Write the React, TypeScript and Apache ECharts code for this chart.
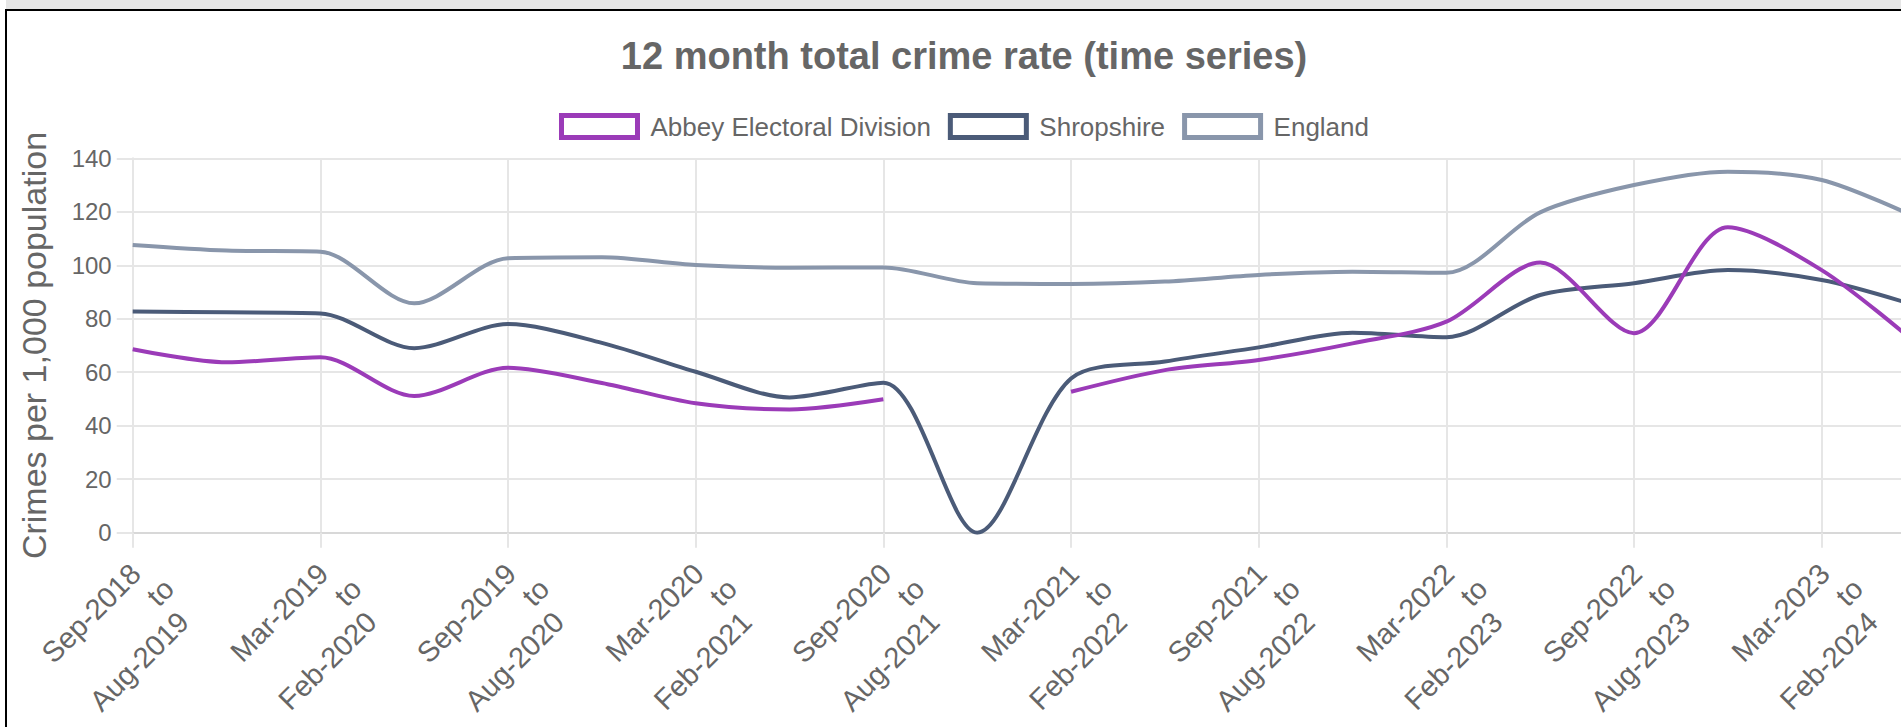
import React, { useEffect, useRef } from "react";
import * as echarts from "echarts";

const categories = [
  "Sep-2018 to Aug-2019",
  "Dec-2018 to Nov-2019",
  "Mar-2019 to Feb-2020",
  "Jun-2019 to May-2020",
  "Sep-2019 to Aug-2020",
  "Dec-2019 to Nov-2020",
  "Mar-2020 to Feb-2021",
  "Jun-2020 to May-2021",
  "Sep-2020 to Aug-2021",
  "Dec-2020 to Nov-2021",
  "Mar-2021 to Feb-2022",
  "Jun-2021 to May-2022",
  "Sep-2021 to Aug-2022",
  "Dec-2021 to Nov-2022",
  "Mar-2022 to Feb-2023",
  "Jun-2022 to May-2023",
  "Sep-2022 to Aug-2023",
  "Dec-2022 to Nov-2023",
  "Mar-2023 to Feb-2024",
  "Jun-2023 to May-2024",
];

const abbey = [68.6, 63.7, 65.6, 51.1, 61.7, 56, 48.4, 46.1, 49.9, null, 52.7, 60.8, 64.6, 70.8, 78.9, 101.0, 74.6, 114.2, 98.2, 71];
const shropshire = [82.7, 82.4, 82.0, 69.0, 78.0, 71, 60.2, 50.6, 56.1, 0, 57.7, 64.0, 69.3, 74.8, 73.1, 88.9, 93.3, 98.2, 94.5, 85];
const england = [107.6, 105.5, 105.1, 85.8, 102.6, 103.0, 100.1, 99.1, 99.2, 93.3, 93.0, 93.9, 96.4, 97.6, 97.2, 119.8, 130.0, 135.0, 131.9, 118];

const seriesNames = ["Abbey Electoral Division", "Shropshire", "England"];
const seriesColors = ["#9b3bb8", "#4b5b78", "#8996ab"];
const yTicks = { min: 0, max: 140, interval: 20 };

const FONT = '"Liberation Sans", Arial, Helvetica, sans-serif';

export default function App() {
  const ref = useRef<HTMLDivElement>(null);

  useEffect(() => {
    if (!ref.current) return;
    const chart = echarts.init(ref.current, null, { renderer: "svg" });
    const dataSets = [abbey, shropshire, england];
    const labelText = { fontFamily: FONT, fontSize: 29, lineHeight: 34, color: "#666666" };
    chart.setOption({
      animation: false,
      backgroundColor: "#ffffff",
      textStyle: { fontFamily: FONT },
      title: {
        text: "12 month total crime rate (time series)",
        left: "center",
        top: 21,
        textStyle: { fontFamily: FONT, fontSize: 38, fontWeight: "bold", color: "#666666" },
      },
      legend: {
        top: 97,
        left: "center",
        icon: "rect",
        itemWidth: 76,
        itemHeight: 22,
        itemGap: 17,
        textStyle: { fontFamily: FONT, fontSize: 26, color: "#666666", padding: [0, 0, 0, 8] },
        data: seriesNames.map((n, i) => ({
          name: n,
          itemStyle: { color: "#ffffff", borderColor: seriesColors[i], borderWidth: 5 },
        })),
      },
      grid: { left: 125.7, right: 5.5, top: 147.3, bottom: 194.3 },
      xAxis: {
        type: "category",
        boundaryGap: false,
        data: categories,
        axisLine: { show: true, lineStyle: { color: "#d8d8d8", width: 2 } },
        axisTick: { show: true, interval: 1, length: 15, lineStyle: { color: "#e6e6e6", width: 2 } },
        splitLine: { show: true, interval: 1, lineStyle: { color: "#e6e6e6", width: 2 } },
        axisLabel: {
          interval: 1,
          rotate: 45,
          align: "right",
          verticalAlign: "top",
          margin: 15,
          ...labelText,
          formatter: (v: string) => {
            const [a, b] = v.split(" to ");
            return `{a|${a}}\n{b|to}\n{a|${b}}`;
          },
          rich: {
            a: { ...labelText, padding: [0, 13, 0, 0] },
            b: { ...labelText, padding: [0, 0, 0, 0] },
          },
        },
      },
      yAxis: {
        type: "value",
        min: yTicks.min,
        max: yTicks.max,
        interval: yTicks.interval,
        name: "Crimes per 1,000 population",
        nameLocation: "middle",
        nameGap: 82,
        nameTextStyle: { fontFamily: FONT, fontSize: 34, color: "#666666" },
        axisLine: { show: true, lineStyle: { color: "#e6e6e6", width: 2 } },
        axisTick: { show: true, length: 16, lineStyle: { color: "#e6e6e6", width: 2 } },
        splitLine: { show: true, lineStyle: { color: "#e6e6e6", width: 2 } },
        axisLabel: { margin: 21, fontFamily: FONT, fontSize: 24, color: "#666666" },
      },
      series: seriesNames.map((n, i) => ({
        name: n,
        type: "line",
        data: dataSets[i],
        smooth: 0.3,
        showSymbol: false,
        symbol: "none",
        lineStyle: { color: seriesColors[i], width: 4 },
        itemStyle: { color: seriesColors[i] },
        z: 3 - i,
      })),
    });
    return () => chart.dispose();
  }, []);

  return (
    <div style={{ position: "fixed", left: 0, top: 0, width: 1901, height: 727, overflow: "hidden", background: "#ffffff" }}>
      <div style={{ position: "absolute", left: 6, top: 0, right: 0, height: 9, background: "#e6e6e6" }} />
      <div style={{ position: "absolute", left: 5, top: 9, right: 0, height: 2, background: "#000000" }} />
      <div style={{ position: "absolute", left: 5, top: 9, width: 2, bottom: 0, background: "#000000" }} />
      <div ref={ref} style={{ position: "absolute", left: 7, top: 11, width: 1914, height: 716 }} />
    </div>
  );
}
